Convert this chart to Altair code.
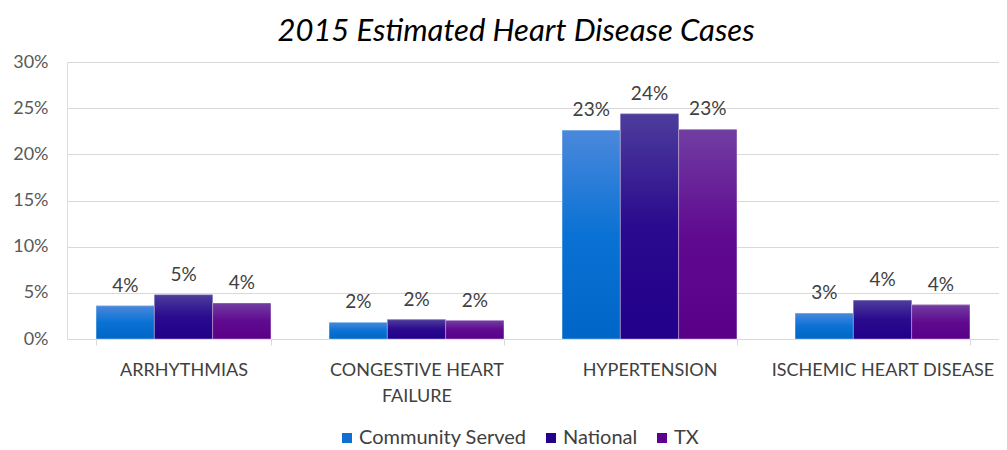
import altair as alt
import pandas as pd

categories = ["ARRHYTHMIAS", "CONGESTIVE HEART FAILURE", "HYPERTENSION", "ISCHEMIC HEART DISEASE"]
series = ["Community Served", "National", "TX"]
community = [0.036, 0.018, 0.226, 0.028]
national = [0.048, 0.021, 0.244, 0.042]
tx = [0.039, 0.020, 0.227, 0.037]
y_ticks = [0, 0.05, 0.10, 0.15, 0.20, 0.25, 0.30]

flat_colors = ["#0f70d3", "#24008c", "#600090"]
gradients = [
    ["#4a88dc", "#0a72d4", "#0066c8"],
    ["#4d3d9c", "#2a0a8e", "#22008a"],
    ["#713ea1", "#600a90", "#5a0088"],
]

rows = []
for s, vals in zip(series, [community, national, tx]):
    for c, v in zip(categories, vals):
        rows.append({"category": c, "series": s, "value": v})
df = pd.DataFrame(rows)

FONT = "Lato"

x_enc = alt.X(
    "category:N",
    sort=categories,
    title=None,
    scale=alt.Scale(paddingInner=0.25, paddingOuter=0.125),
    axis=alt.Axis(
        labelAngle=0,
        labelFont=FONT,
        labelFontSize=18,
        labelColor="#404040",
        labelPadding=16,
        labelLineHeight=26,
        labelExpr="datum.label == 'CONGESTIVE HEART FAILURE' ? ['CONGESTIVE HEART', 'FAILURE'] : datum.label",
        tickBand="extent",
        tickSize=6,
        tickColor="#d9d9d9",
        domainColor="#d9d9d9",
        grid=False,
        labelLimit=400,
    ),
)
xoff_enc = alt.XOffset("series:N", sort=series, scale=alt.Scale(domain=series, paddingInner=0, paddingOuter=0))
y_enc = alt.Y(
    "value:Q",
    title=None,
    scale=alt.Scale(domain=[0, 0.30], nice=False),
    axis=alt.Axis(
        values=y_ticks,
        format=".0%",
        labelFont=FONT,
        labelFontSize=18,
        labelColor="#595959",
        labelPadding=19,
        ticks=False,
        domain=False,
        gridColor="#d9d9d9",
    ),
)

base = alt.Chart(df)

legend_layer = base.mark_bar().encode(
    x=x_enc,
    xOffset=xoff_enc,
    y=y_enc,
    color=alt.Color(
        "series:N",
        sort=series,
        scale=alt.Scale(domain=series, range=flat_colors),
        legend=alt.Legend(
            title=None,
            orient="none",
            direction="horizontal",
            legendX=270,
            legendY=366,
            symbolType="square",
            symbolSize=100,
            symbolStrokeWidth=0,
            labelFont=FONT,
            labelFontSize=20,
            labelColor="#404040",
            labelOffset=2,
            labelLimit=400,
            columnPadding=14,
        ),
    ),
)

layers = [legend_layer]
for s, g in zip(series, gradients):
    grad = alt.LinearGradient(
        gradient="linear",
        x1=0, y1=0, x2=0, y2=1,
        stops=[
            alt.GradientStop(offset=0, color=g[0]),
            alt.GradientStop(offset=0.5, color=g[1]),
            alt.GradientStop(offset=1, color=g[2]),
        ],
    )
    layers.append(
        base.transform_filter(alt.datum.series == s)
        .mark_bar(color=grad, stroke="#ffffff", strokeWidth=0.6, strokeOpacity=0.6)
        .encode(x=x_enc, xOffset=xoff_enc, y=y_enc)
    )

labels = base.mark_text(
    baseline="bottom", dy=-10, font=FONT, fontSize=19, color="#404040"
).encode(
    x=x_enc,
    xOffset=xoff_enc,
    y=y_enc,
    text=alt.Text("value:Q", format=".0%"),
)
layers.append(labels)

chart = alt.layer(*layers).properties(
    width=932,
    height=277,
    autosize=alt.AutoSizeParams(type="none"),
    padding={"left": 59, "top": 54, "right": 0, "bottom": 111},
    title=alt.TitleParams(
        "2015 Estimated Heart Disease Cases",
        font=FONT,
        fontSize=31,
        fontStyle="italic",
        fontWeight="normal",
        color="#000000",
        anchor="middle",
        dx=-17,
        offset=5,
    ),
).configure_view(stroke=None).configure(background="#ffffff")

chart.save("out.html", embed_options={"renderer": "svg", "actions": False})
